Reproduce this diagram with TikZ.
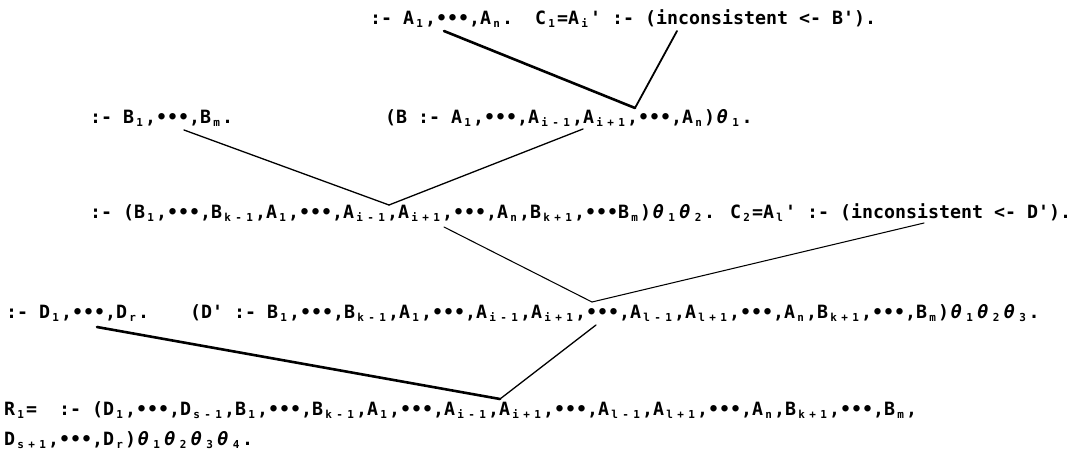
\documentclass[tikz,border=0pt]{standalone}
\usepackage{fontspec}
\newfontfamily\monofnt{DejaVu Sans Mono}
\newlength\ucell
\setlength\ucell{11pt}
\newcommand\subcell[1]{\makebox[\ucell][c]{\raisebox{-3.5pt}{\fontsize{11}{11}\selectfont #1}}}
\def\sub#1{\subloop#1\relax}
\def\subloop#1{\ifx#1\relax\else\subcell{#1}\expandafter\subloop\fi}
\newcommand\dd{•••}
\newcommand\thsub[1]{\makebox[14.5pt][c]{\itshape θ}\makebox[12pt][c]{\raisebox{-3.5pt}{\fontsize{11}{11}\selectfont #1}}}
\tikzset{
  txt/.style={anchor=base west, inner sep=0pt, font=\monofnt\bfseries\fontsize{18.27}{20}\selectfont},
  thick1/.style={line width=2.6pt, line cap=round},
  mid1/.style={line width=1.8pt, line cap=round},
  mid2/.style={line width=1.3pt, line cap=round},
  thin1/.style={line width=1.05pt, line cap=round}
}
\begin{document}
\begin{tikzpicture}[x=1pt,y=1pt]
\useasboundingbox (0,0) rectangle (1084,-455);
\fill[white] (0,0) rectangle (1084,-455);
% text lines
\node[txt] (t1) at (370,-24) {:- A\sub{1},\dd,A\sub{n}.\ \ C\sub{1}=A\sub{i}' :- (inconsistent <- B').};
\node[txt] (t2a) at (90,-123) {:- B\sub{1},\dd,B\sub{m}.};
\node[txt] (t2b) at (385,-123) {(B :- A\sub{1},\dd,A\sub{i-1},A\sub{i+1},\dd,A\sub{n})\thsub{1}.};
\node[txt] (t3) at (90,-218) {:- (B\sub{1},\dd,B\sub{k-1},A\sub{1},\dd,A\sub{i-1},A\sub{i+1},\dd,A\sub{n},B\sub{k+1},\dd B\sub{m})\thsub{1}\thsub{2}.\hspace{15pt}C\sub{2}=A\sub{l}' :- (inconsistent <- D').};
\node[txt] (t4a) at (6,-318) {:- D\sub{1},\dd,D\sub{r}.};
\node[txt] (t4b) at (190,-318) {(D' :- B\sub{1},\dd,B\sub{k-1},A\sub{1},\dd,A\sub{i-1},A\sub{i+1},\dd,A\sub{l-1},A\sub{l+1},\dd,A\sub{n},B\sub{k+1},\dd,B\sub{m})\thsub{1}\thsub{2}\thsub{3}.};
\node[txt] (t5) at (4,-415) {R\sub{1}=\ \ :- (D\sub{1},\dd,D\sub{s-1},B\sub{1},\dd,B\sub{k-1},A\sub{1},\dd,A\sub{i-1},A\sub{i+1},\dd,A\sub{l-1},A\sub{l+1},\dd,A\sub{n},B\sub{k+1},\dd,B\sub{m},};
\node[txt] (t6) at (4,-445) {D\sub{s+1},\dd,D\sub{r})\thsub{1}\thsub{2}\thsub{3}\thsub{4}.};
% connector end points
\coordinate (l1a) at (444,-31);
\coordinate (l1b) at (677,-31);
\coordinate (j1) at (635,-108);
\coordinate (l2a) at (184,-130);
\coordinate (l2b) at (583,-129);
\coordinate (j2) at (389,-205);
\coordinate (l3a) at (444,-227);
\coordinate (l3b) at (924,-223);
\coordinate (j3) at (592,-302);
\coordinate (l4a) at (97,-327);
\coordinate (l4b) at (596,-325);
\coordinate (j4) at (500,-399);
% connectors
\draw[thick1] (l1a) -- (j1);
\draw[mid1] (l1b) -- (j1);
\draw[mid2] (l2a) -- (j2);
\draw[mid2] (l2b) -- (j2);
\draw[thin1] (l3a) -- (j3);
\draw[thin1] (l3b) -- (j3);
\draw[thick1] (l4a) -- (j4);
\draw[mid2] (l4b) -- (j4);
\end{tikzpicture}
\end{document}
